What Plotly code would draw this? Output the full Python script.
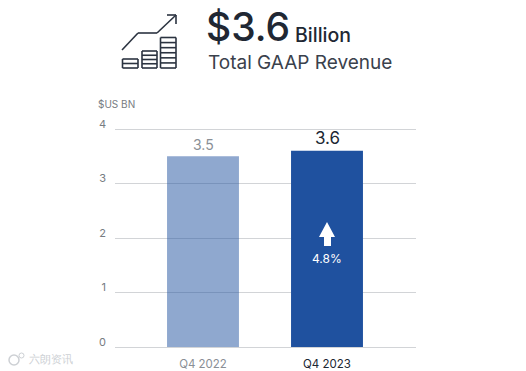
import plotly.graph_objects as go

categories = ["Q4 2022", "Q4 2023"]
revenue = [3.5, 3.6]
bar_colors = ["rgba(31,81,159,0.5)", "#1F519F"]
label_colors = ["#8A8F96", "#202733"]
y_ticks = [0, 1, 2, 3, 4]

W, H = 526, 371
L, R, T, B = 115, 416, 127, 347
Y_TOP = 4.0367

def px(x):
    return (x - L) / (R - L)

def py(y):
    return (B - y) / (B - T)

FONT = "Inter, Roboto, sans-serif"
INK = "#202733"

fig = go.Figure()
fig.add_trace(go.Bar(
    x=[0, 1], y=revenue, width=0.58,
    marker=dict(color=bar_colors, line_width=0),
    hoverinfo="skip",
))
fig.update_xaxes(range=[-0.7097, 1.7177], tickmode="array", tickvals=[0, 1],
                 ticktext=[f'<span style="color:{label_colors[0]}">{categories[0]}</span>',
                           f'<span style="color:{label_colors[1]}">{categories[1]}</span>'],
                 showgrid=False, zeroline=False, showline=False, ticks="", automargin=False,
                 tickfont=dict(family=FONT, size=11.5), ticklabelstandoff=8)
fig.update_yaxes(range=[0, Y_TOP], tickvals=y_ticks, gridcolor="#D2D4D7", gridwidth=1,
                 zeroline=True, zerolinecolor="#D2D4D7", zerolinewidth=1, showline=False,
                 automargin=False, ticklabelshift=-5,
                 tickfont=dict(family=FONT, size=11, color="#777C82"), ticklabelstandoff=8)

ann = []
def text(x, y, s, size, color, anchor="left", yanchor="middle", weight=400):
    ann.append(dict(x=px(x), y=py(y), xref="paper", yref="paper", text=s, showarrow=False,
                    xanchor=anchor, yanchor=yanchor, align=anchor, borderpad=0,
                    font=dict(family=FONT, size=size, color=color, weight=weight)))

text(205, 27, "$3.6", 39, INK, weight=500)
text(294, 35, "Billion", 19.5, INK, weight=500)
text(207, 62, "Total GAAP Revenue", 19, "#3A414C")
text(97, 104, "$US BN", 10, "#777C82")
ann.append(dict(x=0, y=revenue[0], xref="x", yref="y", text=f"{revenue[0]}", showarrow=False,
                yanchor="bottom", yshift=1, font=dict(family=FONT, size=14, color=label_colors[0])))
ann.append(dict(x=1, y=revenue[1], xref="x", yref="y", text=f"{revenue[1]}", showarrow=False,
                yanchor="bottom", yshift=1, font=dict(family=FONT, size=17, color=label_colors[1])))
text(327, 258, "4.8%", 12, "white", anchor="center")
text(28, 359, "六朗资讯", 10.5, "#CDD0D4")

shapes = []
def line(x0, y0, x1, y1, w=1.6, c="#2B3340"):
    shapes.append(dict(type="line", xref="paper", yref="paper", x0=px(x0), y0=py(y0),
                       x1=px(x1), y1=py(y1), line=dict(color=c, width=w)))

def poly(points, fill):
    path = "M " + " L ".join(f"{px(a):.5f},{py(b):.5f}" for a, b in points) + " Z"
    shapes.append(dict(type="path", xref="paper", yref="paper", path=path,
                       fillcolor=fill, line_width=0))

# growth arrow icon
line(122, 50, 138, 33)
line(138, 33, 157, 33)
line(157, 33, 176, 15)
line(167, 15, 176, 15)
line(176, 15, 176, 24)
# stacked coins icon
for x0, x1, top, n in [(122.5, 138, 59, 2), (142, 157, 51, 4), (160.5, 176, 37.5, 6)]:
    step = (68 - top) / n
    for i in range(n + 1):
        line(x0, top + i * step, x1, top + i * step)
    line(x0, top, x0, 68)
    line(x1, top, x1, 68)
# up arrow on the bar
poly([(327, 222), (335, 237), (331, 237), (331, 246), (324, 246), (324, 237), (319, 237)], "white")
# watermark badge
shapes.append(dict(type="circle", xref="paper", yref="paper", x0=px(9), x1=px(19),
                   y0=py(365), y1=py(355), line=dict(color="#CDD0D4", width=1.5)))
shapes.append(dict(type="circle", xref="paper", yref="paper", x0=px(19), x1=px(24),
                   y0=py(358), y1=py(353), line=dict(color="#CDD0D4", width=1)))

fig.update_layout(width=W, height=H, margin=dict(l=L, r=W - R, t=T, b=H - B),
                  paper_bgcolor="white", plot_bgcolor="white", showlegend=False,
                  annotations=ann, shapes=shapes)
fig.write_html("out.html", config={"displayModeBar": False},
               post_script="document.body.style.margin='0';")
